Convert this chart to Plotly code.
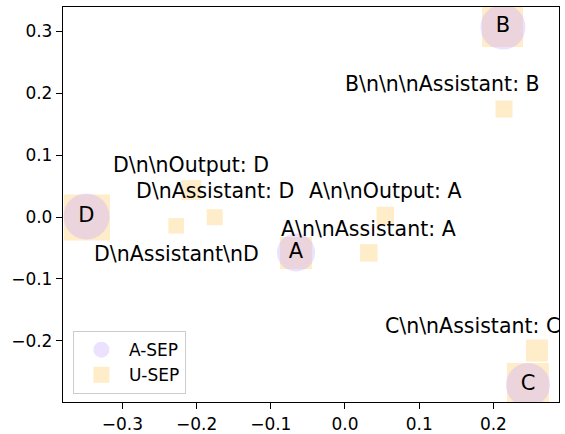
import plotly.graph_objects as go

# A-SEP points (circles)
asep_labels = ["A", "B", "C", "D"]
asep_x = [-0.066, 0.2129, 0.2466, -0.3484]
asep_y = [-0.0574, 0.3071, -0.2716, 0.0008]
asep_size = [38, 45, 44, 46]

# U-SEP points (squares)
usep_labels = ["A", "B", "C", "D",
               "B\\n\\n\\nAssistant: B", "A\\n\\nOutput: A", "A\\n\\nAssistant: A",
               "C\\n\\nAssistant: C", "D\\n\\nOutput: D", "D\\nAssistant: D",
               "D\\nAssistant\\nD"]
usep_x = [-0.066, 0.2123, 0.2466, -0.3477,
          0.2143, 0.0543, 0.0321, 0.2588, -0.2071, -0.1756, -0.2275]
usep_y = [-0.0582, 0.308, -0.270, -0.0008,
          0.1746, 0.0024, -0.058, -0.2158, 0.0436, -0.0003, -0.0142]
usep_size = [32, 41, 42, 46, 17, 17.5, 17.5, 22, 20, 16, 15.5]

# which U-SEP points carry an external text label, and label offsets (px)
label_idx = [4, 5, 6, 7, 8, 9, 10]
label_dx = [-62, 0, 0, -65, 0, 0, 0]
label_dy = [25, 25, 24, 25, 25, 26, -28]

x_ticks = [-0.3, -0.2, -0.1, 0.0, 0.1, 0.2]
y_ticks = [-0.2, -0.1, 0.0, 0.1, 0.2, 0.3]

FONT = "DejaVu Sans"

fig = go.Figure()
fig.add_trace(go.Scatter(
    x=usep_x, y=usep_y, mode="markers", name="U-SEP",
    marker=dict(symbol="square", size=usep_size, color="rgba(255,165,0,0.3)",
                line=dict(width=0)),
    cliponaxis=True,
))
fig.add_trace(go.Scatter(
    x=asep_x, y=asep_y, mode="markers+text", name="A-SEP",
    text=asep_labels, textposition="middle center",
    textfont=dict(family=FONT, size=21, color="black"),
    marker=dict(symbol="circle", size=asep_size, color="rgba(200,170,255,0.5)",
                line=dict(width=0)),
    cliponaxis=True,
))

for k, i in enumerate(label_idx):
    fig.add_annotation(
        x=usep_x[i], y=usep_y[i], text=usep_labels[i], showarrow=False,
        xanchor="center", yanchor="middle",
        xshift=label_dx[k], yshift=label_dy[k],
        font=dict(family=FONT, size=20.5, color="black"),
    )

axis_common = dict(
    showline=True, linecolor="black", linewidth=1.3, mirror=True,
    ticks="outside", ticklen=6, tickwidth=1.3, tickcolor="black",
    showgrid=False, zeroline=False, tickformat=".1f", automargin=False,
    tickfont=dict(family=FONT, size=17, color="black"),
)
fig.update_xaxes(range=[-0.380, 0.2884], tickvals=x_ticks, **axis_common)
fig.update_yaxes(range=[-0.299, 0.3395], tickvals=y_ticks, **axis_common)

fig.update_layout(
    width=565, height=434,
    margin=dict(l=63, r=6, t=7, b=32, autoexpand=False),
    paper_bgcolor="white", plot_bgcolor="white",
    font=dict(family=FONT, size=17, color="black"),
    showlegend=True,
    legend=dict(
        x=0.02, y=0.02, xanchor="left", yanchor="bottom",
        bgcolor="rgba(255,255,255,0.8)", bordercolor="#cccccc", borderwidth=1,
        font=dict(family=FONT, size=17), itemsizing="trace", itemwidth=45,
        traceorder="reversed",
    ),
)

fig.write_html(
    "out.html",
    config={"displayModeBar": False},
    post_script="document.body.style.margin='0px';document.body.style.overflow='hidden';",
)
